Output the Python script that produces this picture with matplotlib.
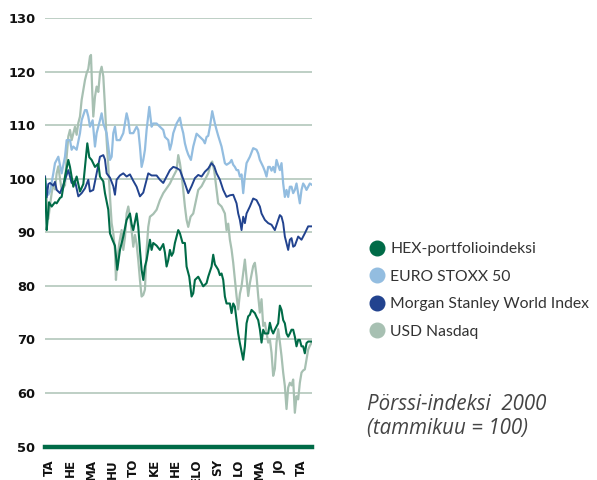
import matplotlib
matplotlib.use("Agg")
import matplotlib.pyplot as plt
from matplotlib.lines import Line2D

# aika-akseli: 0..800 = tammikuu 2000 .. tammikuu 2001
kuukaudet = ["TA", "HE", "MA", "HU", "TO", "KE", "HE", "ELO", "SY", "LO", "MA", "JO", "TA"]
kuu_paikat = [13 + 63 * k for k in range(13)]

hex_t = [0, 5, 8, 12, 20, 30, 35, 45, 50, 55, 60, 70, 75, 85, 95, 105, 115, 123, 127, 133,
         140, 150, 160, 165, 175, 180, 190, 195, 203, 210, 217, 225, 235, 245, 255, 260, 265,
         275, 280, 285, 290, 295, 300, 305, 315, 320, 325, 335, 345, 355, 360, 365, 370, 375,
         380, 385, 390, 400, 405, 413, 420, 425, 433, 440, 445, 450, 460, 465, 475, 485, 490,
         500, 505, 510, 520, 525, 530, 535, 540, 545, 555, 560, 565, 570, 575, 580, 585, 595,
         600, 605, 610, 615, 620, 625, 630, 635, 640, 645, 650, 655, 660, 670, 675, 680, 685,
         690, 695, 700, 705, 710, 715, 720, 725, 730, 735, 740, 745, 750, 755, 760, 765, 770,
         775, 780, 785, 790, 795, 800]
hex_v = [100, 90.4, 92.5, 95.6, 94.8, 95.6, 95.4, 96.4, 96.6, 98.5, 100.4, 103.5, 102.2, 98.5,
         100.4, 97.6, 99, 104.1, 106.6, 104, 103.5, 102.2, 102.8, 100.4, 99.5, 97.3, 94.2, 89.8,
         88.5, 87.5, 83, 86.7, 89.2, 92.3, 93.5, 91.5, 90.4, 93.5, 91, 86.7, 83, 81.1, 83.6,
         84.8, 88.6, 86.7, 88, 87.5, 86.7, 87.8, 86.2, 83.6, 84.8, 86.7, 85.6, 86.2, 88, 90.4,
         89.8, 88, 88, 83.6, 81.7, 78, 78.6, 81.1, 81.7, 81.1, 79.9, 80.5, 81.7, 83.6, 85.8, 84,
         83, 82, 82.3, 81.1, 78, 76.7, 76.7, 74.9, 76.7, 76.1, 73.6, 71.1, 69.3, 66.2, 68.7,
         73, 74.3, 74.6, 75.5, 75.2, 74.9, 74.2, 73.6, 71.9, 69.4, 71.8, 71.1, 71.1, 73.1, 71.8,
         71.1, 71.8, 72.4, 73, 76.3, 75.5, 73.6, 73, 71.1, 70.5, 71.1, 71.8, 71.8, 70.5, 68.7,
         69.9, 69.9, 68.7, 68.7, 67.4, 69.3, 69.6, 69.6, 69.6]

euro_t = [0, 5, 10, 15, 25, 30, 40, 50, 60, 65, 75, 80, 85, 95, 105, 110, 120, 125, 130, 135,
          143, 150, 155, 165, 170, 175, 185, 190, 195, 200, 205, 210, 215, 225, 235, 245, 250,
          255, 265, 275, 280, 285, 290, 295, 300, 305, 313, 320, 325, 335, 345, 355, 360, 370,
          375, 380, 385, 395, 405, 410, 415, 420, 425, 430, 438, 445, 450, 455, 465, 475, 480,
          485, 490, 495, 502, 510, 515, 520, 525, 530, 535, 540, 545, 555, 560, 565, 570, 575,
          580, 585, 590, 595, 600, 605, 615, 625, 635, 640, 645, 655, 660, 665, 670, 675, 680,
          685, 690, 695, 700, 705, 710, 715, 720, 725, 730, 735, 740, 745, 750, 755, 760, 765,
          770, 775, 780, 785, 790, 795, 800]
euro_v = [100, 98, 97, 97.6, 101, 102.9, 104.1, 101, 104.1, 107.2, 107.2, 105.4, 106, 105.4,
          108.5, 110.9, 112.8, 112.8, 111.6, 109.7, 110.9, 106, 108.5, 110.9, 112.2, 110.3,
          108.5, 106, 103.5, 104.1, 108.5, 109.7, 107.2, 107.2, 108.5, 112.2, 110.9, 108.5,
          108.5, 109.7, 109.1, 106, 102.2, 103.5, 105.4, 109.1, 113.4, 109.7, 110.3, 110.3,
          109.7, 109.1, 107.8, 107.2, 105.4, 106.6, 108.5, 110.3, 111.4, 109.7, 108.5, 106.6,
          105.4, 104.5, 103.5, 106, 107.2, 108.4, 107.8, 107.2, 106.6, 107.8, 108, 109.7, 112.6,
          110.3, 109.1, 108, 107, 106, 104.5, 102.9, 102.6, 103, 103.5, 102.6, 102.2, 101.6,
          101.6, 100.4, 100.8, 97.3, 100.5, 102.9, 104.1, 105.7, 105.4, 104.7, 103.5, 102.2,
          101.4, 100.4, 102.2, 102.2, 101.5, 102.2, 101.2, 103.5, 102.5, 101.6, 102.9, 99.1,
          96.6, 97.9, 96.6, 98.5, 98.5, 97.3, 97.9, 99.1, 97.3, 95.4, 97.9, 99.1, 98.6, 97.9,
          98.5, 99.1, 98.9]

ms_t = [0, 5, 10, 15, 25, 30, 35, 45, 55, 60, 70, 80, 90, 100, 110, 120, 130, 135, 145, 155,
        165, 175, 180, 185, 195, 205, 210, 215, 225, 235, 245, 255, 265, 275, 285, 295, 305,
        310, 320, 335, 345, 355, 365, 375, 385, 395, 405, 420, 430, 440, 450, 460, 470, 480,
        490, 500, 508, 515, 525, 535, 545, 555, 565, 575, 580, 585, 590, 595, 600, 605, 615,
        625, 635, 645, 650, 660, 670, 680, 690, 700, 705, 710, 715, 720, 730, 735, 740, 745,
        750, 760, 770, 780, 790, 800]
ms_v = [100.4, 96.5, 99, 99.2, 98.7, 99.4, 97.9, 97.3, 98.8, 99.8, 101.6, 99.2, 99.6, 96.7,
        97.3, 98.2, 99.8, 97.6, 97.9, 101, 104.1, 104.4, 103.6, 101, 100.2, 98.6, 97, 99.8,
        100.6, 101, 100.4, 100.8, 99.6, 98.5, 96.7, 97.4, 99.8, 101, 100.6, 100.6, 99.8, 99.2,
        100.4, 101.6, 102.2, 102, 101.6, 99.1, 97.3, 98.6, 100.1, 100.7, 100.4, 101.3, 101.9,
        102.9, 102.3, 101, 99.8, 97.9, 96.6, 96.9, 97, 95.4, 93.5, 92.3, 90.4, 92.9, 91.7, 93.5,
        94.8, 96.3, 96, 94.8, 93.5, 92.3, 91.7, 91.4, 90.4, 92.3, 93.2, 92.9, 91.7, 89.2, 86.7,
        88.6, 88.9, 87.3, 87.5, 89.2, 88.6, 89.8, 91.1, 91.1]

nasdaq_t = [0, 5, 10, 15, 20, 25, 30, 35, 40, 45, 50, 60, 65, 70, 75, 80, 90, 95, 100, 105,
            110, 115, 120, 125, 130, 135, 138, 142, 145, 150, 155, 160, 165, 170, 175, 180,
            185, 190, 195, 200, 205, 210, 213, 217, 223, 230, 235, 240, 245, 250, 255, 260,
            265, 270, 275, 280, 285, 290, 295, 300, 305, 310, 315, 325, 335, 345, 355, 365,
            375, 385, 395, 400, 405, 410, 415, 420, 425, 430, 437, 445, 452, 460, 470, 480,
            490, 498, 502, 508, 515, 520, 530, 540, 545, 550, 555, 560, 565, 570, 575, 580,
            585, 590, 595, 600, 605, 610, 615, 625, 630, 635, 640, 645, 650, 655, 660, 665,
            670, 675, 680, 685, 690, 695, 700, 705, 710, 715, 720, 725, 730, 735, 740, 745,
            750, 755, 760, 765, 770, 775, 780, 785, 790, 795, 800]
nasdaq_v = [100.4, 96, 92.5, 95, 97.3, 99, 98, 101, 102.3, 100, 97.9, 98.8, 104.1, 107.9,
            109.1, 107.2, 109.7, 108.2, 110.4, 111.6, 114.7, 116.6, 118.4, 119.7, 120.5, 122.8,
            123.1, 116, 111.6, 115.3, 117.2, 116.2, 119.7, 120.9, 119.1, 113.5, 107.2, 102.3,
            96.7, 91.7, 89.8, 86.7, 81.1, 84.8, 88, 90.4, 86.7, 89, 93.5, 94.8, 93, 90.4, 87.3,
            89.5, 87.8, 84.8, 81.1, 78, 78.3, 79.3, 86.7, 91, 92.9, 93.4, 94.2, 96, 97.3, 98.2,
            99.1, 100.4, 101.6, 104.4, 102.9, 100.8, 97.9, 94.8, 92.3, 91, 92.9, 93.5, 95.6,
            97.9, 98.6, 99.8, 101, 102.9, 103.2, 101.5, 97.9, 95.4, 94.8, 93.5, 90.4, 91.6, 88.6,
            86.8, 84.3, 81.2, 78.1, 75.6, 78.5, 79.9, 82.4, 84.9, 81.5, 78.1, 80.5, 83.7, 84.3,
            81.8, 78.1, 75, 77.5, 72.5, 73.1, 71.2, 69.4, 70, 67.5, 63.2, 64.5, 69.4, 71.9, 69.5,
            66.9, 63.8, 61.3, 57, 61, 61.9, 61.4, 62.5, 56.3, 59.4, 58.8, 61.9, 63.8, 64.2, 64.4,
            66.3, 68.1, 68.8, 69.4]

vihrea = "#006b47"
vaaleansininen = "#93bde0"
tummansininen = "#22438f"
harmaa = "#a7c0b2"

fig = plt.figure(figsize=(5.97, 4.8), dpi=100)
ax = fig.add_axes([45 / 597, 1 - 446.5 / 480, 266.5 / 597, 428.5 / 480])

ax.plot(nasdaq_t, nasdaq_v, color=harmaa, lw=1.6, zorder=3)
ax.plot(euro_t, euro_v, color=vaaleansininen, lw=1.6, zorder=4)
ax.plot(ms_t, ms_v, color=tummansininen, lw=1.4, zorder=5)
ax.plot(hex_t, hex_v, color=vihrea, lw=1.5, zorder=6)

ax.set_xlim(0, 800)
ax.set_ylim(50, 130)
ax.set_yticks(range(50, 131, 10))
ax.grid(axis="y", color="#b3c7bb", lw=1.2, zorder=1)
ax.axhline(50, color=vihrea, lw=3.2, zorder=7, clip_on=False)
for s in ax.spines.values():
    s.set_visible(False)

ax.set_xticks(kuu_paikat)
ax.set_xticklabels(kuukaudet, rotation=90, va="top", ha="center")
ax.tick_params(axis="both", length=0, colors="#111111")
ax.tick_params(axis="y", pad=7, labelsize=9.4)
ax.tick_params(axis="x", pad=9, labelsize=8.6)
for lab in ax.get_xticklabels() + ax.get_yticklabels():
    lab.set_fontweight("bold")

nimet = ["HEX-portfolioindeksi", "EURO STOXX 50", "Morgan Stanley World Index", "USD Nasdaq"]
varit = [vihrea, vaaleansininen, tummansininen, harmaa]
kahvat = [Line2D([], [], ls="none", marker="o", markersize=10.5, color=c) for c in varit]
leg = fig.legend(kahvat, nimet, loc="upper left", bbox_to_anchor=(363 / 597, 1 - 236 / 480),
                 frameon=False, labelspacing=0.86, handlelength=1.0,
                 handletextpad=0.35, borderaxespad=0, prop={"family": "Lato", "size": 11.3})
for txt in leg.get_texts():
    txt.set_color("#333333")

fig.text(367 / 597, 1 - 394 / 480, "Pörssi-indeksi  2000\n(tammikuu = 100)",
         ha="left", va="top", fontsize=14.8, style="italic", family="Open Sans",
         color="#444444", linespacing=1.2)

fig.savefig("out.png", dpi=100)
